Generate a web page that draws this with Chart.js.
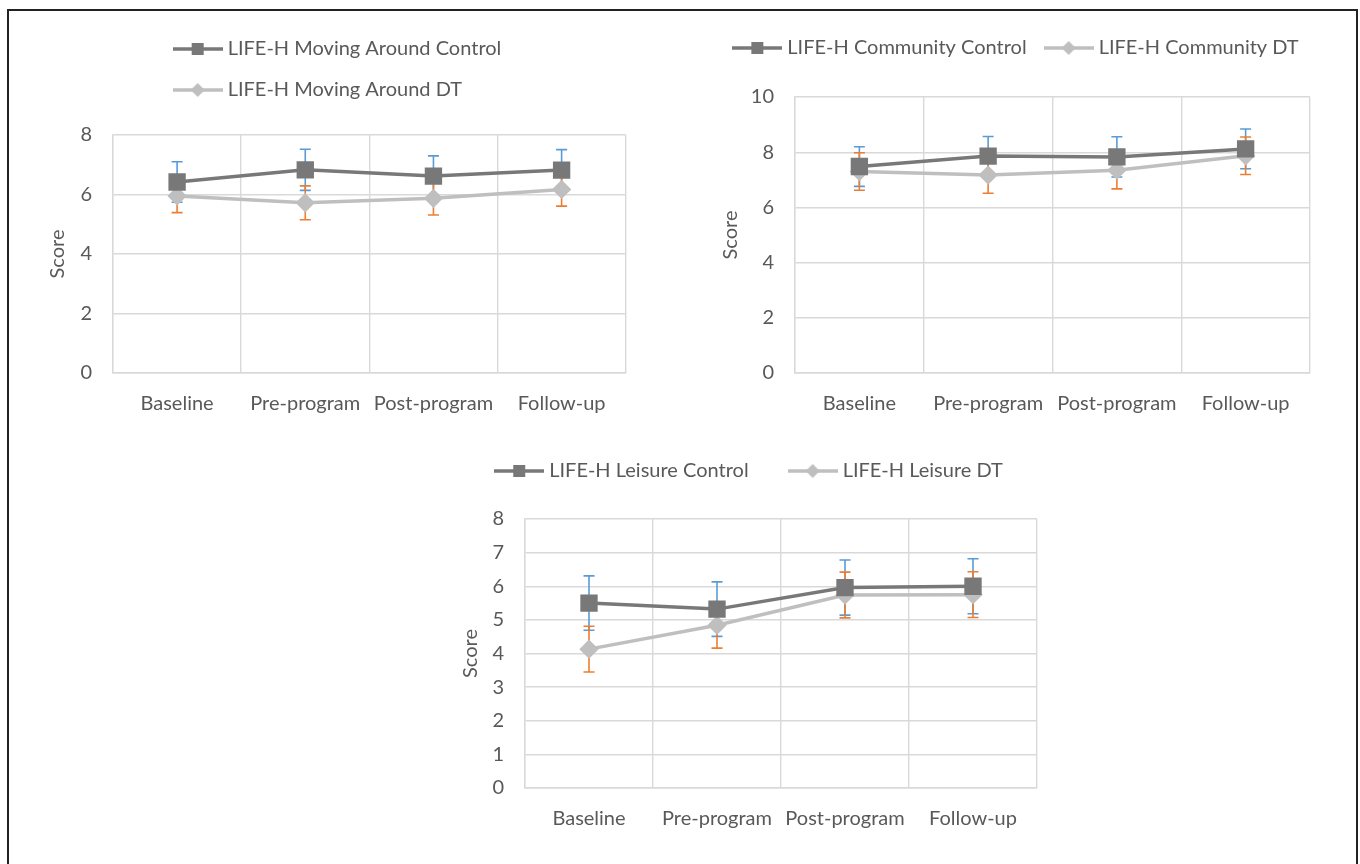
<!DOCTYPE html>
<html>
<head>
<meta charset="utf-8">
<script src="https://cdn.jsdelivr.net/npm/chart.js@4.4.1/dist/chart.umd.min.js"></script>
<style>
  body { margin: 0; background: #fff; width: 1360px; height: 864px; overflow: hidden; position: relative; }
  #frame { position: absolute; left: 7px; top: 9px; width: 1347px; height: 900px; border: 2px solid #222; }
  canvas { position: absolute; }
</style>
</head>
<body>
<div id="frame"></div>
<canvas id="moving" width="599" height="403" style="left:40px; top:18px"></canvas>
<canvas id="community" width="620" height="405" style="left:713px; top:16px"></canvas>
<canvas id="leisure" width="610" height="419" style="left:453px; top:417px"></canvas>
<script>
//------ data
const categories = ['Baseline', 'Pre-program', 'Post-program', 'Follow-up'];

const movingControl = [6.42, 6.83, 6.62, 6.82];
const movingControlErr = [0.68, 0.69, 0.68, 0.69];
const movingDT = [5.95, 5.72, 5.87, 6.17];
const movingDTErr = [0.56, 0.57, 0.56, 0.56];

const communityControl = [7.48, 7.86, 7.83, 8.12];
const communityControlErr = [0.72, 0.71, 0.73, 0.72];
const communityDT = [7.30, 7.17, 7.35, 7.87];
const communityDTErr = [0.68, 0.66, 0.68, 0.68];

const leisureControl = [5.50, 5.32, 5.96, 6.00];
const leisureControlErr = [0.81, 0.81, 0.82, 0.82];
const leisureDT = [4.13, 4.84, 5.74, 5.75];
const leisureDTErr = [0.68, 0.68, 0.68, 0.68];

//------ style
const TEXT = '#595959';
const GRID = '#d9d9d9';
const DARK = '#787878';
const LIGHT = '#bfbfbf';
const BLUE = '#5b9bd5';
const ORANGE = '#ed7d31';
const FONT = { family: 'Lato', size: 20 };

// little line + marker picture used as legend symbol
function legendIcon(color, style) {
  const c = document.createElement('canvas');
  c.width = 50; c.height = 20;
  const g = c.getContext('2d');
  g.strokeStyle = color; g.lineWidth = 3.5;
  g.beginPath(); g.moveTo(0, 10); g.lineTo(50, 10); g.stroke();
  g.fillStyle = color;
  if (style === 'rect') {
    g.fillRect(19, 4, 12, 12);
  } else {
    g.beginPath(); g.moveTo(25, 3); g.lineTo(32, 10); g.lineTo(25, 17); g.lineTo(18, 10); g.closePath(); g.fill();
  }
  return c;
}

// error bars drawn from the y scale
const errorBars = {
  id: 'errorBars',
  beforeDatasetsDraw(chart) {
    const { ctx, scales: { x, y } } = chart;
    chart.data.datasets.forEach(ds => {
      ctx.save();
      ctx.strokeStyle = ds.errorColor;
      ctx.lineWidth = 1.6;
      ds.data.forEach((v, j) => {
        const px = x.getPixelForValue(j);
        const top = y.getPixelForValue(v + ds.errors[j]);
        const bot = y.getPixelForValue(v - ds.errors[j]);
        ctx.beginPath();
        ctx.moveTo(px, top); ctx.lineTo(px, bot);
        ctx.moveTo(px - 5.5, top); ctx.lineTo(px + 5.5, top);
        ctx.moveTo(px - 5.5, bot); ctx.lineTo(px + 5.5, bot);
        ctx.stroke();
      });
      ctx.restore();
    });
  }
};

// fixed legend height so the plot area sits where it should
const legendHeight = {
  id: 'legendHeight',
  afterInit(chart, args, opts) {
    const fit = chart.legend.fit;
    chart.legend.fit = function () { fit.call(this); this.height = opts.height; };
  }
};

// every legend row starts at the same x, nudged by opts.shift
const legendRows = {
  id: 'legendRows',
  afterLayout(chart, args, opts) {
    const w = chart.legend.lineWidths;
    const base = w[0] - 2 * (opts.shift || 0);
    for (let i = 0; i < w.length; i++) w[i] = base;
  }
};

function makeChart(id, o) {
  return new Chart(document.getElementById(id), {
    type: 'line',
    data: {
      labels: categories,
      datasets: [{
        label: o.labels[0],
        data: o.control,
        errors: o.controlErr,
        errorColor: BLUE,
        borderColor: DARK,
        backgroundColor: DARK,
        borderWidth: 3.5,
        pointStyle: 'rect',
        pointRadius: 9.8,
        icon: legendIcon(DARK, 'rect')
      }, {
        label: o.labels[1],
        data: o.dt,
        errors: o.dtErr,
        errorColor: ORANGE,
        borderColor: LIGHT,
        backgroundColor: LIGHT,
        borderWidth: 3.5,
        pointStyle: 'rectRot',
        pointRadius: 7.2,
        icon: legendIcon(LIGHT, 'rot')
      }]
    },
    options: {
      responsive: false,
      animation: false,
      layout: { padding: 0 },
      plugins: {
        tooltip: { enabled: false },
        legendHeight: { height: o.legendH },
        legendRows: { shift: o.shift },
        legend: {
          position: 'top',
          labels: {
            usePointStyle: true,
            pointStyleWidth: 40,
            padding: o.legendPad,
            color: TEXT,
            font: FONT,
            generateLabels: chart => chart.data.datasets.map((ds, i) => ({
              text: ds.label,
              pointStyle: ds.icon,
              fontColor: TEXT,
              fillStyle: 'transparent',
              strokeStyle: 'transparent',
              lineWidth: 0,
              datasetIndex: i
            }))
          }
        }
      },
      scales: {
        x: {
          offset: true,
          grid: { offset: true, color: GRID, lineWidth: 1.4, drawTicks: false },
          border: { color: GRID, width: 1.4 },
          ticks: { color: TEXT, font: FONT, padding: 19, maxRotation: 0, autoSkip: false },
          afterFit: s => { s.height = 48; }
        },
        y: {
          min: 0, max: o.max,
          grid: { color: GRID, lineWidth: 1.4, drawTicks: false },
          border: { color: GRID, width: 1.4 },
          ticks: { stepSize: o.step, color: TEXT, font: FONT, padding: 21 },
          title: { display: true, text: 'Score', color: TEXT, font: FONT, padding: { top: 5.4, bottom: 0 } },
          afterFit: s => { s.width = o.yW; }
        },
        yR: {
          position: 'right',
          grid: { display: false },
          border: { display: false },
          ticks: { display: false },
          afterFit: s => { s.width = o.rightW; }
        }
      }
    },
    plugins: o.plugins
  });
}

makeChart('moving', {
  labels: ['LIFE-H Moving Around Control', 'LIFE-H Moving Around DT'],
  control: movingControl, controlErr: movingControlErr,
  dt: movingDT, dtErr: movingDTErr,
  max: 8, step: 2, yW: 73, rightW: 12, legendPad: 21, legendH: 117, shift: 0,
  plugins: [errorBars, legendHeight, legendRows]
});

makeChart('community', {
  labels: ['LIFE-H Community Control', 'LIFE-H Community DT'],
  control: communityControl, controlErr: communityControlErr,
  dt: communityDT, dtErr: communityDTErr,
  max: 10, step: 2, yW: 82, rightW: 23, legendPad: 22, legendH: 81, shift: -5,
  plugins: [errorBars, legendHeight, legendRows]
});

makeChart('leisure', {
  labels: ['LIFE-H Leisure Control', 'LIFE-H Leisure DT'],
  control: leisureControl, controlErr: leisureControlErr,
  dt: leisureDT, dtErr: leisureDTErr,
  max: 8, step: 1, yW: 72, rightW: 26, legendPad: 44, legendH: 102, shift: -7,
  plugins: [errorBars, legendHeight, legendRows]
});
</script>
</body>
</html>
